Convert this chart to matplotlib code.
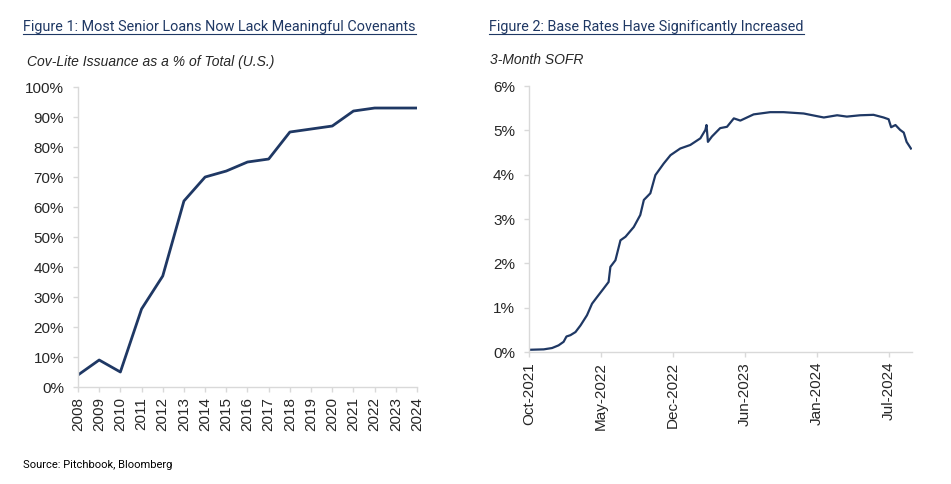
import pandas as pd
import matplotlib
matplotlib.use('Agg')
import matplotlib.pyplot as plt
import matplotlib.dates as mdates
from matplotlib.lines import Line2D
from matplotlib.ticker import FuncFormatter

# Figure 1 data: cov-lite share of US leveraged loan issuance
years = list(range(2008, 2025))
cov_lite_pct = [4, 9, 5, 26, 37, 62, 70, 72, 75, 76, 85, 86, 87, 92, 93, 93, 93]

# Figure 2 data: 3-month SOFR (%)
sofr_dates = ['2021-10-29', '2021-12-09', '2022-01-01', '2022-01-19', '2022-02-02',
              '2022-02-10', '2022-02-21', '2022-03-07', '2022-03-21', '2022-04-08',
              '2022-04-22', '2022-05-06', '2022-05-24', '2022-06-07', '2022-06-12',
              '2022-06-26', '2022-07-10', '2022-07-24', '2022-08-16', '2022-09-03',
              '2022-09-13', '2022-10-01', '2022-10-15', '2022-11-07', '2022-11-26',
              '2022-12-23', '2023-01-20', '2023-02-17', '2023-03-03', '2023-03-06',
              '2023-03-10', '2023-03-21', '2023-04-13', '2023-05-02', '2023-05-21',
              '2023-06-08', '2023-07-15', '2023-08-30', '2023-10-06', '2023-12-01',
              '2024-01-07', '2024-01-26', '2024-03-03', '2024-03-30', '2024-05-06',
              '2024-06-12', '2024-07-10', '2024-07-24', '2024-07-31', '2024-08-12',
              '2024-08-25', '2024-09-04', '2024-09-12', '2024-09-24']
sofr_pct = [0.05, 0.06, 0.09, 0.15, 0.23,
            0.35, 0.38, 0.45, 0.60, 0.83,
            1.09, 1.24, 1.43, 1.58, 1.92,
            2.07, 2.52, 2.60, 2.82, 3.09,
            3.43, 3.58, 3.99, 4.25, 4.44,
            4.59, 4.67, 4.82, 5.01, 5.12,
            4.74, 4.86, 5.05, 5.08, 5.27,
            5.22, 5.36, 5.41, 5.41, 5.38,
            5.32, 5.29, 5.34, 5.31, 5.34,
            5.35, 5.29, 5.25, 5.07, 5.12,
            5.01, 4.95, 4.74, 4.59]
sofr_ticks = ['2021-10-29', '2022-05-17', '2022-12-03', '2023-06-21', '2024-01-07', '2024-07-25']

navy = '#1f3864'
axis_grey = '#d9d9d9'
text_grey = '#262626'
title_blue = '#1f3864'

plt.rcParams['font.family'] = ['Liberation Sans', 'DejaVu Sans']

fig = plt.figure(figsize=(9.51, 4.84), dpi=100)
ax1 = fig.add_axes([0.0820, 0.2004, 0.3565, 0.6198])
ax2 = fig.add_axes([0.5563, 0.2727, 0.4027, 0.5496])

for ax in (ax1, ax2):
    for s in ('top', 'right'):
        ax.spines[s].set_visible(False)
    for s in ('left', 'bottom'):
        ax.spines[s].set_color(axis_grey)
        ax.spines[s].set_linewidth(1.0)
    ax.tick_params(axis='both', colors=axis_grey, length=3.6, width=1.0,
                   labelcolor=text_grey, labelsize=11)
    ax.tick_params(axis='y', pad=6.5)
    ax.tick_params(axis='x', pad=3.5, labelrotation=90)

# Figure 1
ax1.plot(years, cov_lite_pct, color=navy, lw=2.0)
ax1.set_xlim(2008, 2024)
ax1.set_ylim(0, 100)
ax1.set_xticks(years)
ax1.set_yticks(range(0, 101, 10))
ax1.yaxis.set_major_formatter(FuncFormatter(lambda v, p: f'{v:.0f}%'))

# Figure 2
dates = pd.to_datetime(sofr_dates)
ax2.plot(dates, sofr_pct, color=navy, lw=1.6)
ax2.set_xlim(pd.Timestamp('2021-10-29'), pd.Timestamp('2024-09-27'))
ax2.set_ylim(0, 6)
ax2.set_xticks(pd.to_datetime(sofr_ticks))
ax2.xaxis.set_major_formatter(mdates.DateFormatter('%b-%Y'))
ax2.set_yticks(range(0, 7))
ax2.yaxis.set_major_formatter(FuncFormatter(lambda v, p: f'{v:.0f}%'))

# titles (underlined) and subtitles
t1 = fig.text(23 / 951, 1 - 31 / 484, 'Figure 1: Most Senior Loans Now Lack Meaningful Covenants',
              family='Roboto', fontsize=10.4, color=title_blue, va='baseline')
t2 = fig.text(489 / 951, 1 - 31 / 484, 'Figure 2: Base Rates Have Significantly Increased',
              family='Roboto', fontsize=10.4, color=title_blue, va='baseline')
fig.text(27 / 951, 1 - 66 / 484, 'Cov-Lite Issuance as a % of Total (U.S.)',
         fontsize=10, style='italic', color=text_grey, va='baseline')
fig.text(490 / 951, 1 - 64 / 484, '3-Month SOFR',
         fontsize=10, style='italic', color=text_grey, va='baseline')
fig.text(23 / 951, 1 - 468 / 484, 'Source: Pitchbook, Bloomberg',
         family='Roboto', fontsize=8, color='black', va='baseline')

fig.canvas.draw()
renderer = fig.canvas.get_renderer()
for t in (t1, t2):
    bb = t.get_window_extent(renderer).transformed(fig.transFigure.inverted())
    y = 1 - 34 / 484
    fig.add_artist(Line2D([bb.x0, bb.x1], [y, y], transform=fig.transFigure,
                          color=title_blue, lw=0.8))

fig.savefig('out.png', dpi=100)
